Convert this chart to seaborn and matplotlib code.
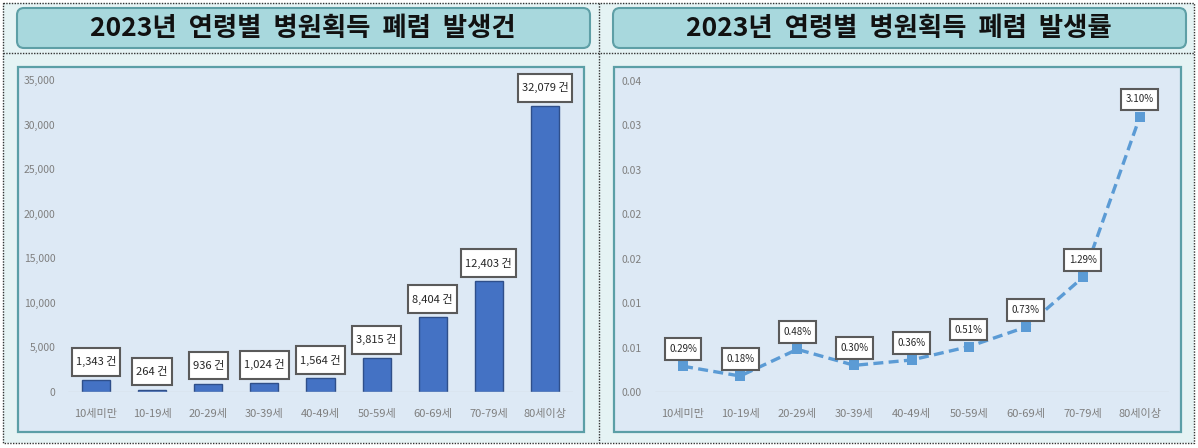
import numpy as np
import pandas as pd
import matplotlib
matplotlib.use("Agg")
import matplotlib.pyplot as plt
from matplotlib.patches import FancyBboxPatch, Rectangle
from matplotlib.path import Path
import seaborn as sns

# ---------------- data ----------------
age_groups = ["10세미만", "10-19세", "20-29세", "30-39세", "40-49세",
              "50-59세", "60-69세", "70-79세", "80세이상"]
case_counts = [1343, 264, 936, 1024, 1564, 3815, 8404, 12403, 32079]
rate_pct = [0.29, 0.18, 0.48, 0.30, 0.36, 0.51, 0.73, 1.29, 3.10]

left_title = "2023년  연령별  병원획득  폐렴  발생건"
right_title = "2023년  연령별  병원획득  폐렴  발생률"

count_ticks = [0, 5000, 10000, 15000, 20000, 25000, 30000, 35000]
count_tick_labels = ["0", "5,000", "10,000", "15,000", "20,000", "25,000", "30,000", "35,000"]
rate_ticks = [0.0, 0.005, 0.010, 0.015, 0.020, 0.025, 0.030, 0.035]
rate_tick_labels = ["0.00", "0.01", "0.01", "0.02", "0.02", "0.03", "0.03", "0.04"]

# ---------------- style ----------------
sns.set_style("white")
plt.rcParams["font.family"] = ["Noto Sans CJK KR", "DejaVu Sans"]

W, H = 1198, 448
fig = plt.figure(figsize=(W / 100, H / 100), dpi=100, facecolor="white")

PANEL_BG = "#e5f3f4"
PLOT_BG = "#dde9f5"
TITLE_FILL = "#a8d8dd"
TITLE_EDGE = "#5e9fa6"
PLOT_EDGE = "#5b9fa6"
TICK_COLOR = "#7f7f7f"


def padded_box(px, py):
    """Rectangle box style with separate horizontal / vertical padding (em units)."""
    def box(x0, y0, width, height, mutation_size):
        dx, dy = px * mutation_size, py * mutation_size
        x1, y1 = x0 + width + dx, y0 + height + dy
        xa, ya = x0 - dx, y0 - dy
        return Path([(xa, ya), (x1, ya), (x1, y1), (xa, y1), (xa, ya)], closed=True)
    return box


# background drawing layer in pixel coordinates
bg = fig.add_axes([0, 0, 1, 1], zorder=0)
bg.set_xlim(0, W)
bg.set_ylim(H, 0)
bg.axis("off")

bg.add_patch(Rectangle((3, 3), 1191, 440, facecolor=PANEL_BG, edgecolor="none"))

for x0 in (17, 613):
    bg.add_patch(FancyBboxPatch((x0, 8), 573, 40,
                                boxstyle="round,pad=0,rounding_size=7",
                                facecolor=TITLE_FILL, edgecolor=TITLE_EDGE, linewidth=1.5))
for x0, w in ((18, 566), (614, 567)):
    bg.add_patch(Rectangle((x0, 67), w, 365, facecolor=PLOT_BG,
                           edgecolor=PLOT_EDGE, linewidth=1.6))

bg.text(303, 29, left_title, ha="center", va="center", fontsize=19,
        fontweight="bold", color="#111111")
bg.text(899, 29, right_title, ha="center", va="center", fontsize=19,
        fontweight="bold", color="#111111")

dot = dict(color="#333333", linewidth=1.0, linestyle=(0, (1, 1)))
bg.plot([3, 1194, 1194, 3, 3], [3, 3, 443, 443, 3], **dot)
bg.plot([599, 599], [3, 443], **dot)
bg.plot([3, 1194], [53, 53], **dot)

# ---------------- left: bar chart ----------------
ax1 = fig.add_axes([68 / W, (H - 392) / H, (573 - 68) / W, (392 - 80) / H], zorder=2)
ax1.set_facecolor("none")
sns.barplot(x=age_groups, y=case_counts, ax=ax1, color="#4472c4", saturation=1,
            width=0.5, edgecolor="#2f4f8a", linewidth=1.0)
ax1.set_xlim(-0.5, len(age_groups) - 0.5)
ax1.set_ylim(0, 35000)
ax1.set_yticks(count_ticks)
ax1.set_yticklabels(count_tick_labels)
ax1.axhline(0, color="#d0d8e0", linewidth=1, zorder=1)
for i, v in enumerate(case_counts):
    ax1.annotate(f"{v:,} 건", xy=(i, v), xytext=(0, 13), textcoords="offset points",
                 ha="center", va="center", fontsize=8, color="#262626",
                 annotation_clip=False,
                 bbox=dict(boxstyle=padded_box(0.36, 0.77), facecolor="white",
                           edgecolor="#5a5a5a", linewidth=1.5))

# ---------------- right: line chart ----------------
ax2 = fig.add_axes([654.5 / W, (H - 392) / H, 514 / W, (392 - 81) / H], zorder=2)
ax2.set_facecolor("none")
rate_df = pd.DataFrame({"age": age_groups, "rate": [r / 100 for r in rate_pct]})
sns.lineplot(data=rate_df, x="age", y="rate", ax=ax2, sort=False, color="#5b9bd5",
             linewidth=2.4, linestyle=(0, (3, 1.6)), marker="s", markersize=6.5,
             markeredgewidth=0)
ax2.set_xlim(-0.5, len(age_groups) - 0.5)
ax2.set_ylim(0, 0.035)
ax2.set_yticks(rate_ticks)
ax2.set_yticklabels(rate_tick_labels)
ax2.axhline(0, color="#d0d8e0", linewidth=1, zorder=1)
for i, r in enumerate(rate_pct):
    ax2.annotate(f"{r:.2f}%", xy=(i, r / 100), xytext=(0, 12.3), textcoords="offset points",
                 ha="center", va="center", fontsize=7, color="#262626",
                 annotation_clip=False,
                 bbox=dict(boxstyle=padded_box(0.46, 0.6), facecolor="white",
                           edgecolor="#5a5a5a", linewidth=1.5))

for ax in (ax1, ax2):
    ax.set_xlabel("")
    ax.set_ylabel("")
    for s in ax.spines.values():
        s.set_visible(False)
    ax.tick_params(axis="both", length=0, colors=TICK_COLOR, labelsize=7.5)
    ax.tick_params(axis="x", pad=12, labelsize=8)
    ax.tick_params(axis="y", pad=9)
    ax.grid(False)

fig.savefig("out.png", dpi=100, facecolor="white")
